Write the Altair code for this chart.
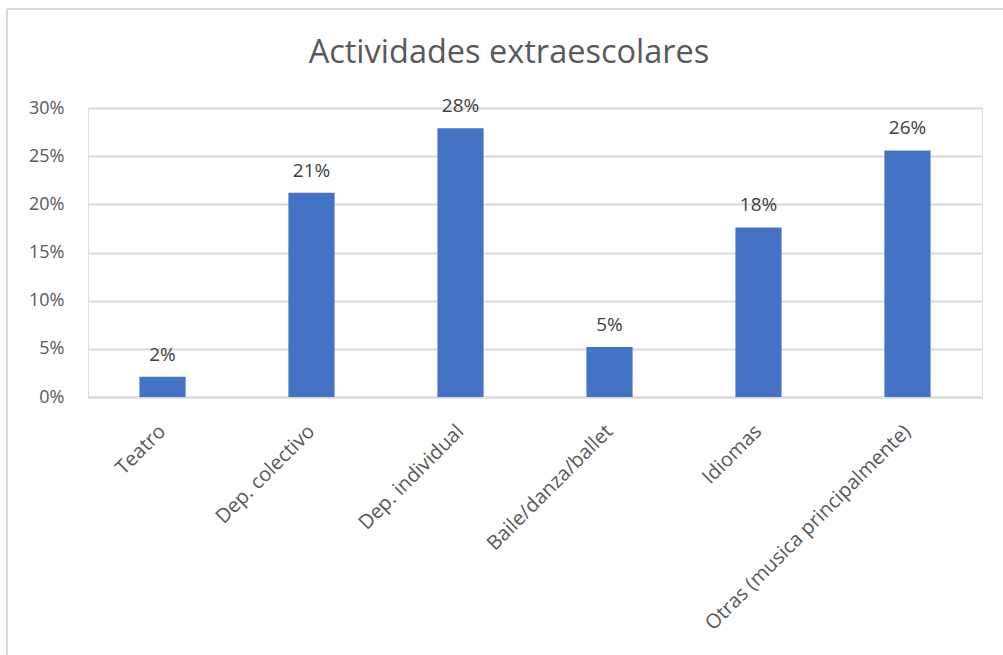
import altair as alt
import pandas as pd

categories = ["Teatro", "Dep. colectivo", "Dep. individual", "Baile/danza/ballet", "Idiomas", "Otras (musica principalmente)"]
values = [0.021, 0.212, 0.279, 0.052, 0.176, 0.256]
y_ticks = [0, 0.05, 0.10, 0.15, 0.20, 0.25, 0.30]
title_text = "Actividades extraescolares"

df = pd.DataFrame({"cat": categories, "val": values})

FONT = "Open Sans"

x_enc = alt.X("cat:N", sort=categories, title=None,
              scale=alt.Scale(paddingInner=0.69, paddingOuter=0.345),
              axis=alt.Axis(labelAngle=-45, labelAlign="right", labelBaseline="middle",
                            labelFontSize=20, labelColor="#595959", labelFont=FONT,
                            labelPadding=31, ticks=False, domain=True, domainColor="#d9d9d9",
                            domainWidth=2, labelLimit=400))
y_enc = alt.Y("val:Q", title=None,
              scale=alt.Scale(domain=[0, 0.3], nice=False),
              axis=alt.Axis(values=y_ticks, format=".0%", labelFontSize=18, labelColor="#595959",
                            labelFont=FONT, labelPadding=24, ticks=False, domain=False,
                            grid=True, gridColor="#d9d9d9", gridWidth=2))

base = alt.Chart(df)

bars = base.mark_bar(color="#4472C4").encode(x=x_enc, y=y_enc)

labels = base.mark_text(fontSize=19, font=FONT, color="#404040", baseline="alphabetic", dy=-16).encode(
    x=alt.X("cat:N", sort=categories),
    y="val:Q",
    text=alt.Text("val:Q", format=".0%"),
)

frame_left = base.mark_rule(color="#d9d9d9", strokeWidth=2).encode(
    x=alt.value(-81), y=alt.value(-99), y2=alt.value(547))
frame_top = base.mark_rule(color="#d9d9d9", strokeWidth=2).encode(
    x=alt.value(-81), x2=alt.value(915), y=alt.value(-99))

title = alt.Chart(pd.DataFrame({"t": [title_text]})).mark_text(
    fontSize=32.5, font=FONT, color="#595959", baseline="alphabetic", align="center"
).encode(x=alt.value(421), y=alt.value(-45), text="t:N")

chart = alt.layer(frame_left, frame_top, bars, labels, title).properties(
    width=894, height=289,
    padding={"left": 88, "top": 108, "right": 21, "bottom": 258},
    autosize=alt.AutoSizeParams(type="none"),
).configure_view(stroke=None).configure(background="white")

chart.save("out.html", embed_options={"renderer": "svg", "actions": False})
